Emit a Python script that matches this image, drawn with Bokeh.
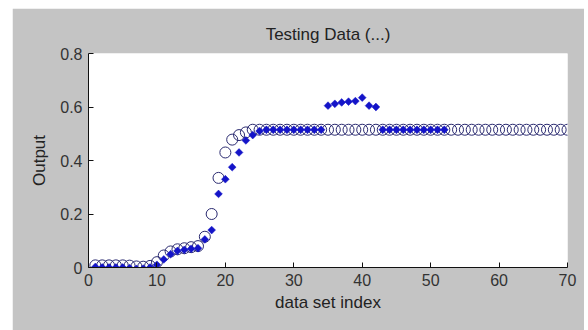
from bokeh.plotting import figure
from bokeh.embed import file_html
from bokeh.resources import INLINE
from bokeh.models import FixedTicker, Range1d, Spacer
from bokeh.layouts import column, row
import math

# ---- data ----
index = list(range(1, 71))
targets = [0.008, 0.008, 0.008, 0.008, 0.008, 0.007, 0.004, 0.003, 0.006,
           0.020, 0.045, 0.060, 0.068, 0.072, 0.076, 0.080, 0.115, 0.200,
           0.335, 0.430, 0.478, 0.495, 0.505] + [0.515] * 47
out_index = list(range(1, 53))
outputs = [0.002, 0.0, 0.0, 0.0, 0.0, -0.002, -0.005, -0.004, 0.0,
           0.010, 0.030, 0.050, 0.062, 0.066, 0.070, 0.072, 0.105, 0.140,
           0.275, 0.330, 0.375, 0.430, 0.475, 0.495,
           0.510, 0.515, 0.515, 0.515, 0.515, 0.515, 0.515, 0.515, 0.515, 0.515,
           0.605, 0.612, 0.617, 0.620, 0.622, 0.635, 0.605, 0.600,
           0.515, 0.515, 0.515, 0.515, 0.515, 0.515, 0.515, 0.515, 0.515, 0.515]
x_ticks = [0, 10, 20, 30, 40, 50, 60, 70]
y_ticks = [0, 0.2, 0.4, 0.6, 0.8]
y_tick_labels = {0: "0", 0.2: "0.2", 0.4: "0.4", 0.6: "0.6", 0.8: "0.8"}

FONT = "Liberation Sans"
BG = "#c4c4c4"

p = figure(width=572, height=322, output_backend="svg", toolbar_location=None,
           x_range=Range1d(0, 70), y_range=Range1d(0, 0.8),
           min_border_left=76, min_border_right=17, min_border_top=45,
           min_border_bottom=63, title="Testing Data (...)")
p.background_fill_color = "white"
p.border_fill_color = BG
p.outline_line_color = None
p.grid.visible = False

p.title.align = "center"
p.title.vertical_align = "top"
p.title.text_font = FONT
p.title.text_font_size = "17px"
p.title.text_font_style = "normal"
p.title.text_color = "#222222"
p.title.standoff = 16

for ax in (p.xaxis[0], p.yaxis[0]):
    ax.major_tick_in = 5
    ax.major_tick_out = 0
    ax.minor_tick_in = 0
    ax.minor_tick_out = 0
    ax.axis_line_color = "#111111"
    ax.major_tick_line_color = "#111111"
    ax.major_label_text_font = FONT
    ax.major_label_text_font_size = "16px"
    ax.major_label_text_color = "#333333"
    ax.axis_label_text_font = FONT
    ax.axis_label_text_font_size = "17px"
    ax.axis_label_text_font_style = "normal"
    ax.axis_label_text_color = "#222222"

p.xaxis.ticker = FixedTicker(ticks=x_ticks)
p.yaxis.ticker = FixedTicker(ticks=y_ticks)
p.yaxis.major_label_overrides = y_tick_labels
p.xaxis.axis_label = "data set index"
p.yaxis.axis_label = "Output"
p.xaxis.major_label_standoff = 6
p.xaxis.axis_label_standoff = 4
p.yaxis.major_label_standoff = 6
p.yaxis.axis_label_standoff = 8

p.scatter(index, targets, marker="circle", size=11, fill_color=None,
          line_color="#2a2a70", line_width=1)
p.scatter(out_index, outputs, marker="square", size=5.5, angle=math.pi / 4,
          fill_color="#1414c8", line_color="#1414c8", line_width=0.5)

layout = column(Spacer(height=8), row(Spacer(width=12), p))
open("out.html", "w").write(file_html(layout, INLINE))
